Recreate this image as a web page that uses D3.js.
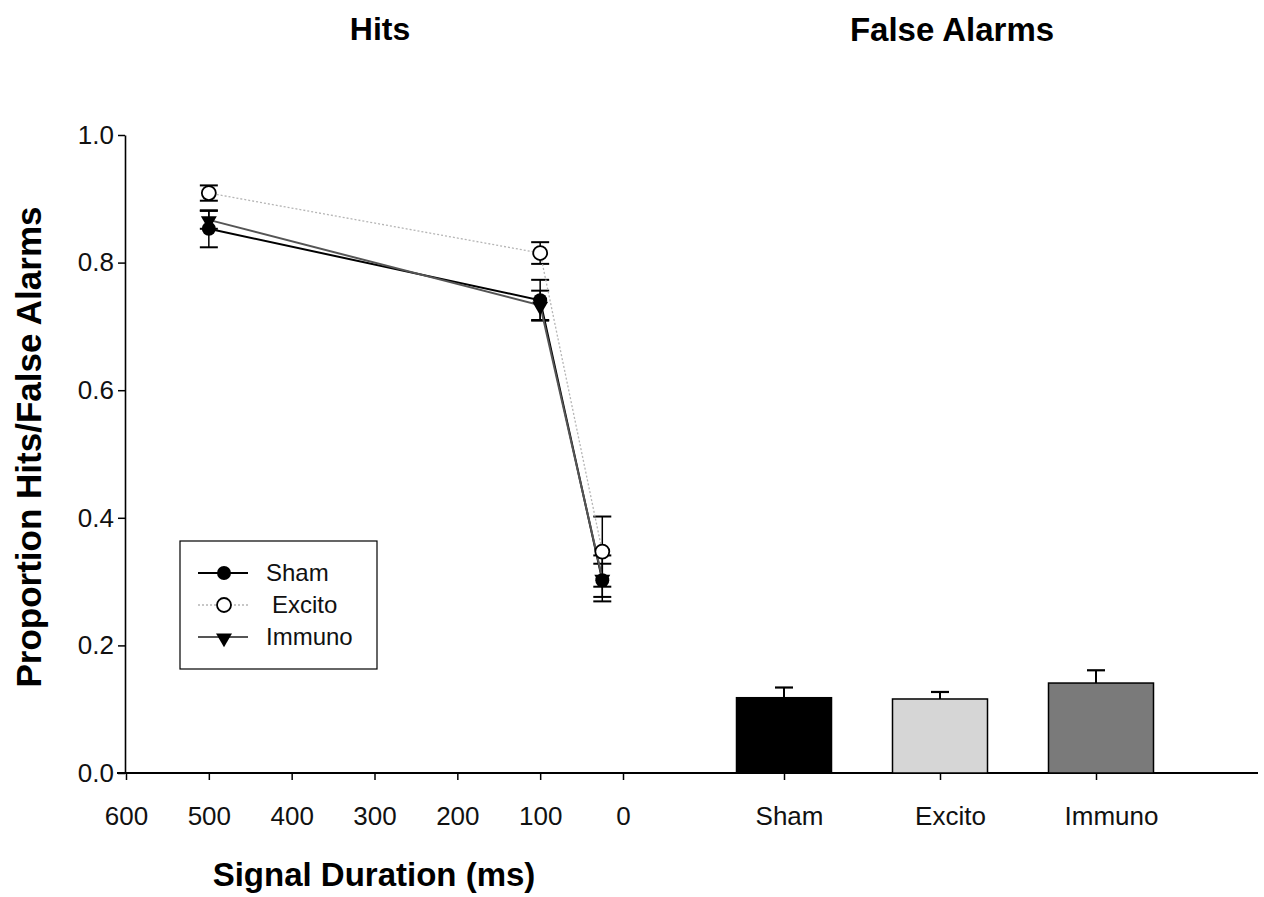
<!DOCTYPE html>
<html>
<head>
<meta charset="utf-8">
<script src="https://cdn.jsdelivr.net/npm/d3@7"></script>
<style>
  body { margin: 0; background: #fff; }
  text { font-family: "Liberation Sans", Arial, sans-serif; }
</style>
</head>
<body>
<div id="chart"></div>
<script>
// hits data (signal duration in ms)
const durations = [500, 100, 25]
const shamHits = [0.853, 0.741, 0.302]
const shamErr = [0.029, 0.032, 0.026]
const excitoHits = [0.909, 0.815, 0.347]
const excitoErr = [0.012, 0.017, 0.055]
const immunoHits = [0.867, 0.733, 0.305]
const immunoErr = [0.014, 0.023, 0.036]

// false alarms
const groups = ["Sham", "Excito", "Immuno"]
const faValues = [0.118, 0.116, 0.141]
const faErr = [0.016, 0.011, 0.020]

const xTicks = [600, 500, 400, 300, 200, 100, 0]
const yTicks = [0.0, 0.2, 0.4, 0.6, 0.8, 1.0]

const w = 1264, h = 897

const svg = d3.select("#chart")
  .append("svg")
  .attr("width", w)
  .attr("height", h)

const yScale = d3.scaleLinear().domain([0, 1]).range([773, 135])
const xScale = d3.scaleLinear().domain([600, 0]).range([126, 623])
const barScale = d3.scalePoint().domain(groups).range([706, 1174]).padding(0.5)
const barW = 95

// y axis
const yAxis = d3.axisLeft(yScale).tickValues(yTicks).tickFormat(d3.format(".1f")).tickSize(7).tickSizeOuter(0)
const gy = svg.append("g").attr("transform", "translate(125,0)").call(yAxis)
gy.select(".domain").attr("stroke", "#000").attr("stroke-width", 1.6)
gy.selectAll(".tick line").attr("stroke", "#000").attr("stroke-width", 1.5)
gy.selectAll(".tick text").attr("font-size", 26).attr("fill", "#111").attr("x", -11)

// long baseline across both panels
svg.append("line")
  .attr("x1", 117).attr("x2", 1258)
  .attr("y1", yScale(0)).attr("y2", yScale(0))
  .attr("stroke", "#000").attr("stroke-width", 1.8)

// x axis for hits
const xAxis = d3.axisBottom(xScale).tickValues(xTicks).tickSize(7).tickSizeOuter(0)
const gx = svg.append("g").attr("transform", "translate(0," + yScale(0) + ")").call(xAxis)
gx.select(".domain").remove()
gx.selectAll(".tick line").attr("stroke", "#000").attr("stroke-width", 1.5)
gx.selectAll(".tick text").attr("font-size", 26).attr("fill", "#111").attr("y", 52).attr("dy", 0)

// x axis for bars
const bAxis = d3.axisBottom(barScale).tickSize(7).tickSizeOuter(0)
const gb = svg.append("g").attr("transform", "translate(0," + yScale(0) + ")").call(bAxis)
gb.select(".domain").remove()
gb.selectAll(".tick line").attr("stroke", "#000").attr("stroke-width", 1.5)
gb.selectAll(".tick text").attr("font-size", 26).attr("fill", "#111").attr("y", 52).attr("dy", 0).attr("dx", (d, i) => 5 + i * 5)

// series
const series = [
  { name: "Sham", vals: shamHits, err: shamErr, line: "#000", width: 2, dash: null, marker: "filled" },
  { name: "Excito", vals: excitoHits, err: excitoErr, line: "#b5b5b5", width: 1.3, dash: "2,2", marker: "open" },
  { name: "Immuno", vals: immunoHits, err: immunoErr, line: "#555", width: 2, dash: null, marker: "tri" }
]

const line = d3.line().x(d => xScale(d[0])).y(d => yScale(d[1]))

// error bars first
series.forEach(s => {
  const g = svg.append("g")
  durations.forEach((d, i) => {
    const x = xScale(d)
    const y1 = yScale(s.vals[i] + s.err[i]), y2 = yScale(s.vals[i] - s.err[i])
    g.append("line").attr("x1", x).attr("x2", x).attr("y1", y1).attr("y2", y2).attr("stroke", "#000").attr("stroke-width", 1.5)
    g.append("line").attr("x1", x - 9).attr("x2", x + 9).attr("y1", y1).attr("y2", y1).attr("stroke", "#000").attr("stroke-width", 2)
    g.append("line").attr("x1", x - 9).attr("x2", x + 9).attr("y1", y2).attr("y2", y2).attr("stroke", "#000").attr("stroke-width", 2)
  })
})

series.forEach(s => {
  svg.append("path")
    .datum(durations.map((d, i) => [d, s.vals[i]]))
    .attr("d", line)
    .attr("fill", "none")
    .attr("stroke", s.line)
    .attr("stroke-width", s.width)
    .attr("stroke-dasharray", s.dash)
})

function marker(g, type, x, y) {
  if (type == "filled") {
    g.append("circle").attr("cx", x).attr("cy", y).attr("r", 7).attr("fill", "#000")
  }
  if (type == "open") {
    g.append("circle").attr("cx", x).attr("cy", y).attr("r", 7).attr("fill", "#fff").attr("stroke", "#000").attr("stroke-width", 1.8)
  }
  if (type == "tri") {
    g.append("path").attr("d", d3.symbol().type(d3.symbolTriangle).size(110)())
      .attr("transform", "translate(" + x + "," + (y + 1) + ") rotate(180)")
      .attr("fill", "#000")
  }
}

series.forEach(s => {
  const g = svg.append("g")
  durations.forEach((d, i) => marker(g, s.marker, xScale(d), yScale(s.vals[i])))
})

// bars
const barColors = ["#000", "#d6d6d6", "#7a7a7a"]
groups.forEach((gname, i) => {
  const cx = barScale(gname)
  const top = yScale(faValues[i])
  const capY = yScale(faValues[i] + faErr[i])
  svg.append("line").attr("x1", cx).attr("x2", cx).attr("y1", capY).attr("y2", top).attr("stroke", "#000").attr("stroke-width", 2)
  svg.append("line").attr("x1", cx - 9).attr("x2", cx + 9).attr("y1", capY).attr("y2", capY).attr("stroke", "#000").attr("stroke-width", 2.2)
  svg.append("rect")
    .attr("x", cx - barW / 2)
    .attr("y", top)
    .attr("width", barW + (i == 2 ? 10 : 0))
    .attr("height", yScale(0) - top)
    .attr("fill", barColors[i])
    .attr("stroke", "#000")
    .attr("stroke-width", 1.5)
})

// legend
const lg = svg.append("g")
lg.append("rect").attr("x", 180).attr("y", 541).attr("width", 197).attr("height", 128)
  .attr("fill", "#fff").attr("stroke", "#000").attr("stroke-width", 1.2)
series.forEach((s, i) => {
  const y = 573 + i * 32
  lg.append("line").attr("x1", 198).attr("x2", 248).attr("y1", y).attr("y2", y)
    .attr("stroke", s.line).attr("stroke-width", s.width).attr("stroke-dasharray", s.dash)
  marker(lg, s.marker, 224, y)
  lg.append("text").attr("x", s.name == "Excito" ? 272 : 266).attr("y", y + 8).attr("font-size", 24).attr("fill", "#111").text(s.name)
})

// titles
svg.append("text").attr("x", 380).attr("y", 40).attr("text-anchor", "middle").attr("font-size", 32).attr("font-weight", "bold").text("Hits")
svg.append("text").attr("x", 952).attr("y", 41).attr("text-anchor", "middle").attr("font-size", 33).attr("font-weight", "bold").text("False Alarms")
svg.append("text").attr("x", 374).attr("y", 886).attr("text-anchor", "middle").attr("font-size", 33).attr("font-weight", "bold").text("Signal Duration (ms)")
svg.append("text").attr("transform", "translate(41,447) rotate(-90)").attr("text-anchor", "middle").attr("font-size", 35).attr("font-weight", "bold").text("Proportion Hits/False Alarms")
</script>
</body>
</html>
